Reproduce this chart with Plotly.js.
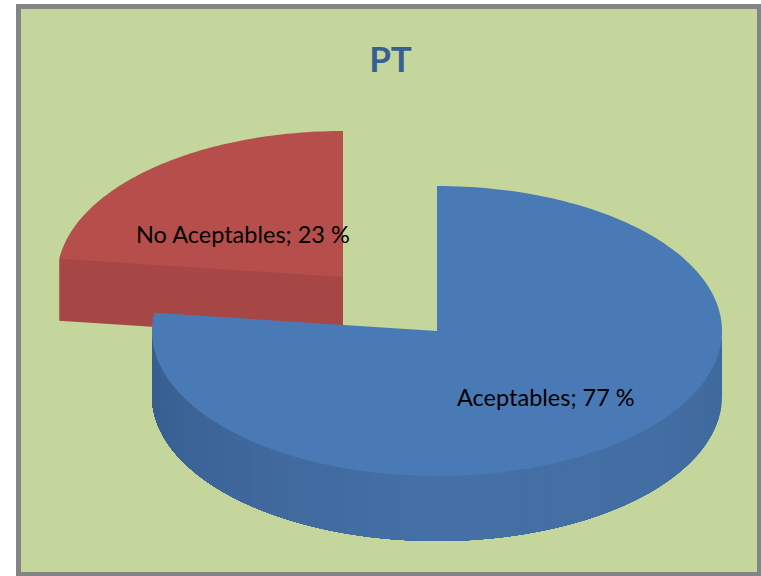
<!DOCTYPE html>
<html>
<head>
<meta charset="utf-8">
<script src="https://cdn.plot.ly/plotly-3.0.1.min.js"></script>
<style>html,body{margin:0;padding:0;background:#fff}#chart{width:761px;height:576px}</style>
</head>
<body>
<div id="chart"></div>
<script>
const categories = ['Aceptables', 'No Aceptables'];
const percentages = [77, 23];
const chartTitle = 'PT';

const BLUE = {cx: 437, cy: 331, rx: 285, ry: 145, depth: 65, top: '#4A7AB5'};
const RED = {cx: 343, cy: 277, rx: 286, ry: 146, depth: 62, top: '#B64E4B', wall: '#A64745'};
const total = percentages.reduce((a, b) => a + b, 0);
const sweepA = percentages[0] / total * 2 * Math.PI;
const FONT = 'Lato, "Open Sans", sans-serif';

function pt(c, a, dy) {
  return [c.cx + c.rx * Math.sin(a), c.cy - c.ry * Math.cos(a) + (dy || 0)];
}
function arc(c, a0, a1, dy, n) {
  const out = [];
  for (let i = 0; i <= n; i++) out.push(pt(c, a0 + (a1 - a0) * i / n, dy));
  return out;
}
function poly(points, color) {
  return {
    type: 'scatter', mode: 'none', fill: 'toself',
    x: points.map(p => p[0]), y: points.map(p => p[1]),
    fillcolor: color,
    hoverinfo: 'skip', showlegend: false
  };
}
function mix(a, b, t) {
  return 'rgb(' + a.map((v, i) => Math.round(v + (b[i] - v) * t)).join(',') + ')';
}
// outer-wall shade stops, from the right of the disc round to the left
const wallStops = [[0, [62, 104, 156]], [0.22, [66, 110, 163]], [0.5, [68, 112, 165]], [0.75, [63, 103, 155]], [1, [54, 92, 141]]];
function wallColor(t) {
  for (let i = 1; i < wallStops.length; i++) {
    if (t <= wallStops[i][0]) {
      const p = wallStops[i - 1], q = wallStops[i];
      return mix(p[1], q[1], (t - p[0]) / (q[0] - p[0]));
    }
  }
  return mix(wallStops[4][1], wallStops[4][1], 0);
}

const traces = [];
// red slice: inner wall (tucked slightly under the top face), then top face
const rp = pt(RED, sweepA);
traces.push(poly([[rp[0] + 1, rp[1] - 1.5], [RED.cx, RED.cy - 1.5], [RED.cx, RED.cy + RED.depth], [rp[0], rp[1] + RED.depth], [rp[0], rp[1] + 1], [rp[0] + 1, rp[1] - 1.5]], RED.wall));
traces.push(poly([[RED.cx, RED.cy]].concat(arc(RED, sweepA, 2 * Math.PI, 0, 80)).concat([[RED.cx, RED.cy]]), RED.top));
// blue slice: outer wall painted as overlapping shaded bands, then top face
const SEG = 40, aStart = Math.PI / 2, aEnd = 3 * Math.PI / 2;
for (let i = 0; i < SEG; i++) {
  const a0 = aStart + (aEnd - aStart) * i / SEG;
  const up = arc(BLUE, a0, aEnd, -1.5, 80), low = arc(BLUE, aEnd, a0, BLUE.depth, 80);
  traces.push(poly(up.concat(low).concat([up[0]]), wallColor((i + 0.5) / SEG)));
}
traces.push(poly([[BLUE.cx, BLUE.cy]].concat(arc(BLUE, 0, sweepA, 0, 200)).concat([[BLUE.cx, BLUE.cy]]), BLUE.top));

const layout = {
  width: 761, height: 576,
  margin: {l: 0, r: 0, t: 0, b: 0},
  paper_bgcolor: '#ffffff', plot_bgcolor: 'rgba(0,0,0,0)',
  showlegend: false,
  title: {
    text: '<b>' + chartTitle + '</b>', x: 390.5 / 761, y: 1 - 60 / 576,
    xanchor: 'center', yanchor: 'middle',
    font: {family: FONT, size: 35, color: '#376092'}
  },
  xaxis: {range: [0, 761], visible: false, fixedrange: true},
  yaxis: {range: [576, 0], visible: false, fixedrange: true},
  shapes: [{
    type: 'rect', layer: 'below', x0: 18.5, y0: 6.5, x1: 759.5, y1: 574.5,
    line: {color: '#848484', width: 5}, fillcolor: '#C4D69B'
  }],
  annotations: [
    {text: categories[0] + '; ' + percentages[0] + ' %', x: 545.5, y: 397},
    {text: categories[1] + '; ' + percentages[1] + ' %', x: 243, y: 234}
  ].map(a => Object.assign(a, {
    xref: 'x', yref: 'y', showarrow: false, xanchor: 'center', yanchor: 'middle',
    font: {family: FONT, size: 23.5, color: '#000000'}
  }))
};
Plotly.newPlot('chart', traces, layout, {displayModeBar: false, staticPlot: true});
</script>
</body>
</html>
